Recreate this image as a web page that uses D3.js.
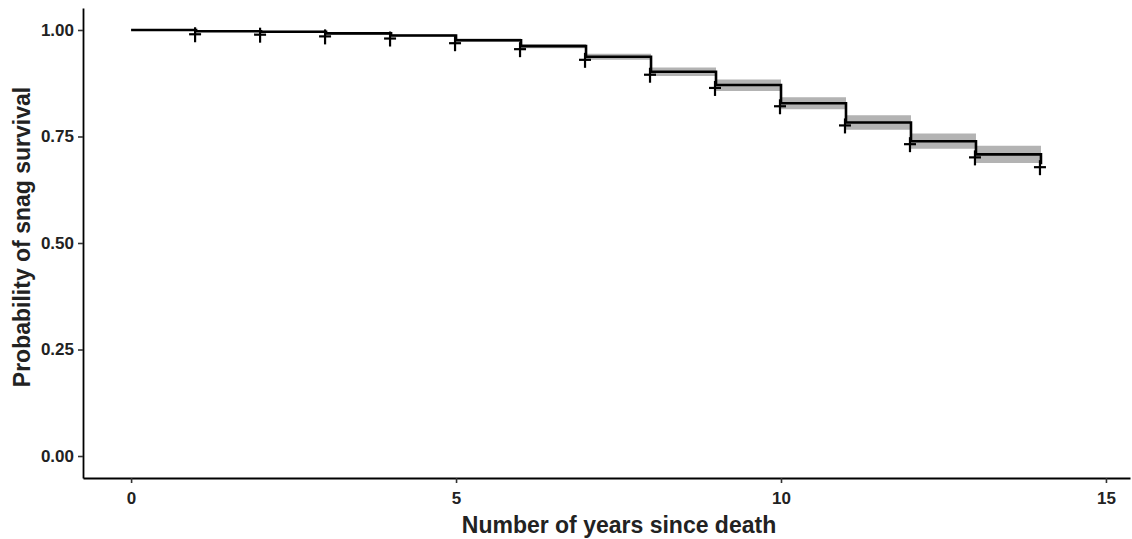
<!DOCTYPE html>
<html><head><meta charset="utf-8">
<script src="https://cdn.jsdelivr.net/npm/d3@7"></script>
<style>
body{margin:0;background:#fff;}
svg{display:block;font-family:"Liberation Sans",Arial,sans-serif;}
</style></head>
<body>
<script>
const times = [0,1,2,3,4,5,6,7,8,9,10,11,12,13,14];
const surv  = [1.000,0.997,0.996,0.992,0.987,0.976,0.962,0.937,0.902,0.871,0.828,0.783,0.739,0.708,0.685];
const upper = [1.000,0.999,0.998,0.995,0.990,0.980,0.967,0.944,0.912,0.884,0.842,0.800,0.757,0.728,0.705];
const lower = [1.000,0.995,0.994,0.989,0.984,0.972,0.957,0.930,0.892,0.857,0.814,0.766,0.721,0.688,0.662];
const censorTimes = [1,2,3,4,5,6,7,8,9,10,11,12,13,14];
const xTicks = [0,5,10,15];
const yTicks = [0,0.25,0.5,0.75,1];

(function(){
const W=1132,H=539;
const mL=83,mR=1130,mT=8,mB=478;
const svg=d3.select("body").append("svg").attr("width",W).attr("height",H);
const x=d3.scaleLinear().domain([-0.74,15.37]).range([mL,mR]);
const y=d3.scaleLinear().domain([-0.0516,1.0516]).range([mB,mT]);

const data=times.map((t,i)=>({t,s:surv[i],u:upper[i],l:lower[i]}));

svg.append("path").datum(data)
  .attr("d",d3.area().curve(d3.curveStepAfter).x(d=>x(d.t)).y0(d=>y(d.l)).y1(d=>y(d.u)))
  .attr("fill","#b3b3b3");

svg.append("path").datum(data)
  .attr("d",d3.line().curve(d3.curveStepAfter).x(d=>x(d.t)).y(d=>y(d.s)))
  .attr("fill","none").attr("stroke","#000").attr("stroke-width",2.6);

const sAt=t=>{let v=surv[0];times.forEach((tt,i)=>{if(tt<=t)v=surv[i];});return v;};
const cg=svg.append("g");
censorTimes.forEach(t=>{
  const cx=x(t)-1, cy=y(sAt(t))+3;
  cg.append("line").attr("x1",cx-6).attr("x2",cx+6).attr("y1",cy).attr("y2",cy).attr("stroke","#000").attr("stroke-width",2.2);
  cg.append("line").attr("x1",cx).attr("x2",cx).attr("y1",cy-7).attr("y2",cy+8).attr("stroke","#000").attr("stroke-width",2.2);
});

const xa=svg.append("g").attr("transform",`translate(0,${mB})`)
  .call(d3.axisBottom(x).tickValues(xTicks).tickFormat(d3.format("d")).tickSize(5).tickPadding(9).tickSizeOuter(0));
const ya=svg.append("g").attr("transform",`translate(${mL},0)`)
  .call(d3.axisLeft(y).tickValues(yTicks).tickFormat(d3.format(".2f")).tickSize(5).tickPadding(4).tickSizeOuter(0));
[xa,ya].forEach(g=>{
  g.select(".domain").attr("stroke","#000").attr("stroke-width",1.8);
  g.selectAll(".tick line").attr("stroke","#333").attr("stroke-width",1.6);
  g.selectAll(".tick text").attr("fill","#222").attr("font-size",17).attr("font-weight","bold").attr("font-family","'Liberation Sans',Arial,sans-serif");
});

svg.append("text").attr("x",619).attr("y",533).attr("text-anchor","middle")
  .attr("font-size",23).attr("font-weight","bold").attr("fill","#222")
  .text("Number of years since death");
svg.append("text").attr("transform","translate(30,237) rotate(-90)").attr("text-anchor","middle")
  .attr("font-size",23).attr("font-weight","bold").attr("fill","#222")
  .text("Probability of snag survival");
})();
</script>
</body></html>
